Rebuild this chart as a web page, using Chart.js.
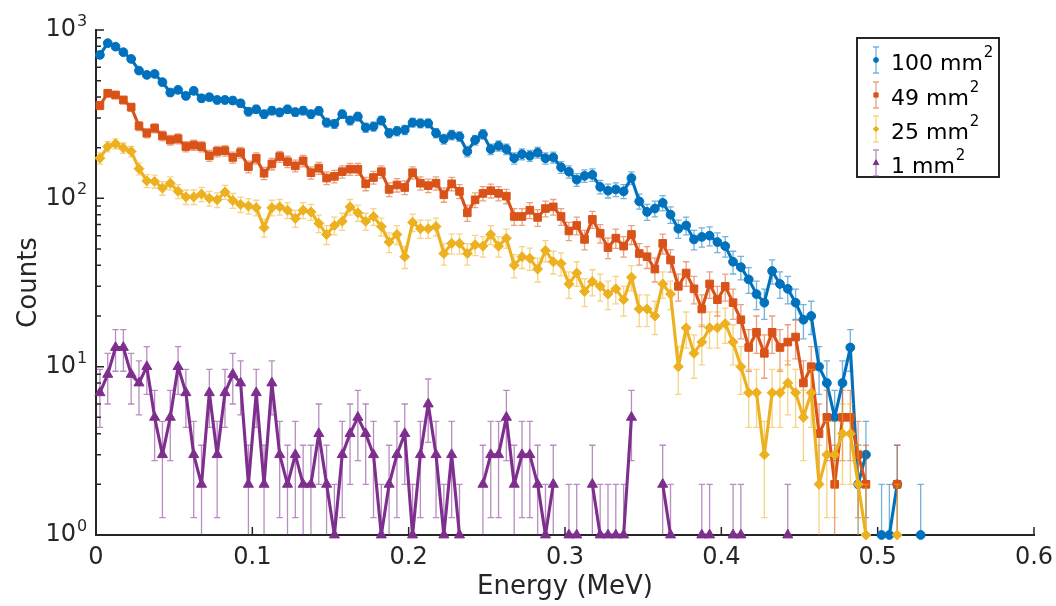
<!DOCTYPE html>
<html><head><meta charset="utf-8">
<script src="https://cdn.jsdelivr.net/npm/chart.js@4.4.1/dist/chart.umd.min.js"></script>
<style>html,body{margin:0;padding:0;background:#fff;}#wrap{position:relative;width:1056px;height:606px;}</style>
</head><body><div id="wrap"><canvas id="c" width="1056" height="606"></canvas></div>
<script>
// ---- data ----
const energy = [
 0.0025,0.0075,0.0125,0.0175,0.0225,0.0275,0.0325,0.0375,0.0425,0.0475,
 0.0525,0.0575,0.0625,0.0675,0.0725,0.0775,0.0825,0.0875,0.0925,0.0975,
 0.1025,0.1075,0.1125,0.1175,0.1225,0.1275,0.1325,0.1375,0.1425,0.1475,
 0.1525,0.1575,0.1625,0.1675,0.1725,0.1775,0.1825,0.1875,0.1925,0.1975,
 0.2025,0.2075,0.2125,0.2175,0.2225,0.2275,0.2325,0.2375,0.2425,0.2475,
 0.2525,0.2575,0.2625,0.2675,0.2725,0.2775,0.2825,0.2875,0.2925,0.2975,
 0.3025,0.3075,0.3125,0.3175,0.3225,0.3275,0.3325,0.3375,0.3425,0.3475,
 0.3525,0.3575,0.3625,0.3675,0.3725,0.3775,0.3825,0.3875,0.3925,0.3975,
 0.4025,0.4075,0.4125,0.4175,0.4225,0.4275,0.4325,0.4375,0.4425,0.4475,
 0.4525,0.4575,0.4625,0.4675,0.4725,0.4775,0.4825,0.4875,0.4925,0.4975,
 0.5025,0.5075,0.5125,0.5175,0.5225,0.5275];
const counts100 = [
 711,835,796,738,673,574,541,548,490,425,
 441,406,435,393,399,384,384,381,367,327,
 338,316,332,324,338,325,332,316,331,282,
 277,316,290,306,263,267,290,244,251,255,
 282,279,279,244,225,238,233,190,222,240,
 196,205,196,173,183,179,187,173,175,153,
 144,129,136,138,117,111,113,110,132,96,
 83,87,94,80,66,69,57,59,60,55,
 52,42,39,33,27,24,37,31,29,24,
 19,20,10,8,5,8,13,2,3,null,
 1,1,2,null,null,1];
const counts49 = [
 356,421,411,384,348,269,244,261,235,222,
 226,203,207,203,179,190,192,175,187,154,
 173,141,160,177,165,156,167,142,151,132,
 135,144,149,149,122,133,144,113,120,116,
 142,123,119,123,105,122,110,82,98,107,
 111,107,103,78,78,85,77,87,89,78,
 64,69,57,75,62,51,58,52,61,47,
 45,38,54,43,30,36,29,22,31,25,
 30,24,19,13,16,12,16,13,14,15,
 8,10,4,5,2,5,5,3,2,null,
 null,null,2,null,null,null];
const counts25 = [
 173,203,211,199,190,150,127,126,115,123,
 110,102,102,106,100,98,109,97,92,90,
 88,67,88,89,85,76,85,83,71,61,
 69,73,89,82,73,78,68,55,61,45,
 72,66,66,68,47,54,54,47,53,52,
 61,52,58,40,45,44,38,49,42,41,
 31,36,28,32,30,27,29,25,34,22,
 22,20,31,27,10,17,12,14,17,17,
 18,14,10,7,7,3,7,7,8,7,
 5,7,2,3,3,4,4,2,1,null,
 null,null,1,null,null,null];
const counts1 = [
 7,9,13,13,9,8,10,5,3,5,
 10,7,3,2,7,3,7,9,8,2,
 7,2,8,3,2,3,2,2,4,2,
 1,3,4,5,4,3,1,2,3,4,
 1,3,6,3,1,3,1,null,null,2,
 3,3,5,2,3,3,2,1,2,null,
 1,1,null,2,1,1,1,1,5,null,
 null,null,2,1,null,null,null,1,1,null,
 null,1,1,null,null,null,null,null,1,null,
 null,null,null,null,null,null,null,null,null,null,
 null,null,null,null,null,null];
const seriesAreas = ['100','49','25','1'];
const seriesUnit = 'mm';
const seriesUnitExp = '2';
const xTickValues = [0,0.1,0.2,0.3,0.4,0.5,0.6];
const xTickLabels = ['0','0.1','0.2','0.3','0.4','0.5','0.6'];
const yTickValues = [1,10,100,1000];
const yTickBase = '10';
const yTickExps = ['0','1','2','3'];
const yMinorValues = [2,3,4,5,6,7,8,9,20,30,40,50,60,70,80,90,200,300,400,500,600,700,800,900];

// ---- styling ----
const COLORS = ['#0072BD','#D95319','#EDB120','#7E2F8E'];
const BAR_COLORS = ['rgba(0,114,189,0.55)','rgba(217,83,25,0.55)','rgba(237,177,32,0.55)','rgba(126,47,142,0.55)'];
const STYLES = [
  {pointStyle:'circle', r:4.4},
  {pointStyle:'rect', r:5.4},
  {pointStyle:'rectRot', r:5.0},
  {pointStyle:'triangle', r:5.8}
];
const AXIS = '#262626';
const FONT = 'DejaVu Sans';
Chart.defaults.font.family = FONT;
Chart.defaults.color = AXIS;

const allCounts = [counts100, counts49, counts25, counts1];
const toPts = arr => energy.map((e,i) => ({x:e, y: arr[i]}));

const datasets = allCounts.map((arr, i) => ({
  label: seriesAreas[i] + ' ' + seriesUnit + '²',
  data: toPts(arr),
  borderColor: COLORS[i],
  backgroundColor: COLORS[i],
  pointBackgroundColor: COLORS[i],
  pointBorderColor: COLORS[i],
  pointStyle: STYLES[i].pointStyle,
  pointRadius: STYLES[i].r,
  pointBorderWidth: 1,
  borderWidth: 3.1,
  borderJoinStyle: 'round',
  tension: 0,
  spanGaps: false,
  clip: false,
  order: 4 - i
}));

const errorBars = {
  id: 'errorBars',
  beforeDatasetDraw(chart, args) {
    const i = args.index;
    const arr = allCounts[i];
    const xs = chart.scales.x, ys = chart.scales.y;
    const a = chart.chartArea, ctx = chart.ctx;
    ctx.save();
    ctx.beginPath();
    ctx.rect(a.left - 10, 0, a.right - a.left + 30, a.bottom);
    ctx.clip();
    ctx.strokeStyle = BAR_COLORS[i];
    ctx.lineWidth = 1.3;
    const cw = 3.2;
    arr.forEach((v, k) => {
      if (v == null) return;
      const e = Math.sqrt(v);
      const px = xs.getPixelForValue(energy[k]);
      const hi = ys.getPixelForValue(v + e);
      const lo = (v - e) > 0 ? ys.getPixelForValue(v - e) : a.bottom + 20;
      ctx.beginPath();
      ctx.moveTo(px, hi); ctx.lineTo(px, lo);
      ctx.moveTo(px - cw, hi); ctx.lineTo(px + cw, hi);
      if ((v - e) > 0) { ctx.moveTo(px - cw, lo); ctx.lineTo(px + cw, lo); }
      ctx.stroke();
    });
    ctx.restore();
  }
};

const innerTicks = {
  id: 'innerTicks',
  beforeDatasetsDraw(chart) {
    const xs = chart.scales.x, ys = chart.scales.y;
    const a = chart.chartArea, ctx = chart.ctx;
    ctx.save();
    ctx.strokeStyle = AXIS;
    ctx.lineWidth = 1.5;
    ctx.beginPath();
    xTickValues.forEach(v => {
      const px = xs.getPixelForValue(v);
      ctx.moveTo(px, a.bottom); ctx.lineTo(px, a.bottom - 8);
    });
    yTickValues.forEach(v => {
      const py = ys.getPixelForValue(v);
      ctx.moveTo(a.left, py); ctx.lineTo(a.left + 8, py);
    });
    yMinorValues.forEach(v => {
      const py = ys.getPixelForValue(v);
      ctx.moveTo(a.left, py); ctx.lineTo(a.left + 5, py);
    });
    ctx.stroke();
    // exponents of the y tick labels
    ctx.fillStyle = AXIS;
    ctx.font = '16px "' + FONT + '"';
    ctx.textAlign = 'left';
    ctx.textBaseline = 'alphabetic';
    yTickValues.forEach((v, j) => {
      const py = ys.getPixelForValue(v);
      ctx.fillText(yTickExps[j], 77, py - 4);
    });
    ctx.restore();
  }
};

const legendBox = {
  id: 'legendBox',
  afterDraw(chart) {
    const ctx = chart.ctx;
    const bx = 857, by = 38, bw = 142, bh = 139;
    ctx.save();
    ctx.fillStyle = '#fff';
    ctx.fillRect(bx, by, bw, bh);
    ctx.strokeStyle = AXIS;
    ctx.lineWidth = 2;
    ctx.strokeRect(bx, by, bw, bh);
    const rows = [60, 95, 129, 163];
    seriesAreas.forEach((area, i) => {
      const cy = rows[i], cx = 876;
      ctx.strokeStyle = BAR_COLORS[i];
      ctx.lineWidth = 1.3;
      ctx.beginPath();
      ctx.moveTo(cx, cy - 13); ctx.lineTo(cx, cy + 13);
      ctx.moveTo(cx - 3, cy - 13); ctx.lineTo(cx + 3, cy - 13);
      ctx.moveTo(cx - 3, cy + 13); ctx.lineTo(cx + 3, cy + 13);
      ctx.stroke();
      ctx.fillStyle = COLORS[i];
      ctx.strokeStyle = COLORS[i];
      ctx.lineWidth = 1;
      Chart.helpers.drawPoint(ctx, {pointStyle: STYLES[i].pointStyle, radius: STYLES[i].r * 0.55, rotation: 0, borderWidth: 1}, cx, cy);
      ctx.fillStyle = '#000';
      ctx.textAlign = 'left';
      ctx.textBaseline = 'alphabetic';
      ctx.font = '22px "' + FONT + '"';
      const main = area + ' ' + seriesUnit;
      ctx.fillText(main, 891, cy + 10);
      const w = ctx.measureText(main).width;
      ctx.font = '15px "' + FONT + '"';
      ctx.fillText(seriesUnitExp, 891 + w + 1, cy - 3);
    });
    ctx.restore();
  }
};

new Chart(document.getElementById('c'), {
  type: 'line',
  data: { datasets },
  options: {
    responsive: false,
    animation: false,
    devicePixelRatio: 1,
    layout: { padding: { left: 0, right: 22, top: 30, bottom: 0 } },
    plugins: { legend: { display: false }, tooltip: { enabled: false } },
    scales: {
      x: {
        type: 'linear', position: 'bottom', min: 0, max: 0.6,
        afterBuildTicks: s => { s.ticks = xTickValues.map(v => ({value: v})); },
        afterFit: s => { s.height = 71; s.paddingLeft = 0; s.paddingRight = 0; },
        ticks: {
          autoSkip: false, maxRotation: 0, padding: 8,
          font: { size: 24 }, color: AXIS,
          callback: (v) => { const j = xTickValues.indexOf(v); return j >= 0 ? xTickLabels[j] : ''; }
        },
        grid: { display: true, drawOnChartArea: false, drawTicks: false },
        border: { display: true, color: AXIS, width: 2 },
        title: { display: true, text: 'Energy (MeV)', font: { size: 26 }, color: AXIS, padding: { top: 0, bottom: 3 } }
      },
      y: {
        type: 'logarithmic', position: 'left', min: 1, max: 1000,
        afterBuildTicks: s => { s.ticks = yTickValues.concat(yMinorValues).sort((a,b)=>a-b).map(v => ({value: v, major: yTickValues.includes(v)})); },
        afterFit: s => { s.width = 96; s.paddingTop = 0; s.paddingBottom = 0; },
        ticks: {
          autoSkip: false, padding: 20,
          font: { size: 24 }, color: AXIS,
          callback: (v) => yTickValues.includes(v) ? yTickBase : ''
        },
        grid: { display: true, drawOnChartArea: false, drawTicks: false },
        border: { display: true, color: AXIS, width: 2 },
        title: { display: true, text: 'Counts', font: { size: 26 }, color: AXIS, padding: { top: 14, bottom: 0 } }
      }
    }
  },
  plugins: [errorBars, innerTicks, legendBox]
});
</script>
</body></html>
